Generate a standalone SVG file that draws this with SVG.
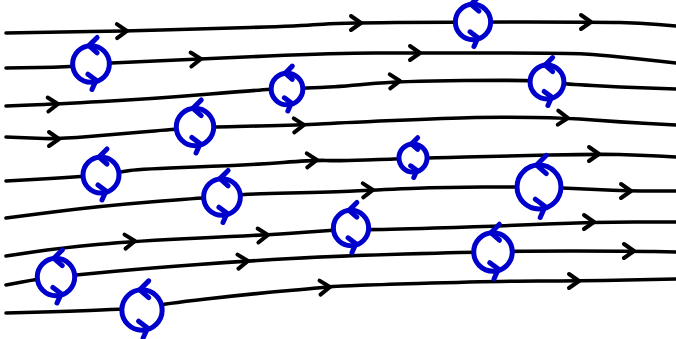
<svg xmlns="http://www.w3.org/2000/svg" xmlns:xlink="http://www.w3.org/1999/xlink" width="676" height="339" viewBox="0 0 676 339">
  <style>
    .stream { fill: none; stroke: #000; stroke-width: 3.6; stroke-linecap: round; stroke-linejoin: round; }
    .chev { fill: none; stroke: #000; stroke-width: 4; stroke-linecap: round; stroke-linejoin: round; }
    .swirl circle { fill: #fff; }
    .swirl * { stroke: #0000cc; stroke-width: 5; stroke-linecap: round; stroke-linejoin: round; vector-effect: non-scaling-stroke; }
    .swirl path { fill: none; }
  </style>
  <defs>
    <!-- flow direction chevron, tip at the origin pointing +x -->
    <path id="chev" d="M-9,-7 L1,0 L-9,7"/>
    <!-- counter-rotating eddy, radius 18 -->
    <g id="swirl" class="swirl">
      <circle r="18"/>
      <path d="M6,-26 L-2,-18 L6,-11"/>
      <path d="M-3,10 L5,16 L1,25"/>
    </g>
  </defs>

  <rect width="676" height="339" fill="#fff"/>

  <g id="streamlines">
    <path class="stream" d="M6,33 L33,32.5 Q60,32 91,31.5 Q122,31 161,30 Q200,29 250,27.5 Q300,26 318,24.5 Q336,23 395.5,22.5 Q455,22 527.5,22 Q600,22 620,22.5 Q640,23 658,24.5 L676,26"/>
    <path class="stream" d="M6,68 L38,67.5 Q70,67 80.5,65.5 Q91,64 100.5,63.5 Q110,63 155,61 Q200,59 268,56 Q336,53 375.5,53 Q415,53 492,53 Q569,53 584.5,54 Q600,55 620,57 Q640,59 658,61 L676,63"/>
    <path class="stream" d="M6,106 L30.5,105 Q55,104 102.5,101.5 Q150,99 210,94 Q270,89 278.5,89 Q287,89 296,88.5 Q305,88 320.5,87.5 Q336,87 367.5,84 Q399,81 464.5,80.5 Q530,80 538.5,81 Q547,82 556,83 Q565,84 592.5,85.5 Q620,87 648,88 L676,89"/>
    <path class="stream" d="M6,137 L18,137.5 Q30,138 44,138.5 Q58,139 89,136.5 Q120,134 148,131.5 Q176,129 185.5,128.5 Q195,128 204.5,127.5 Q214,127 258.5,126 Q303,125 319.5,124 Q336,123 393,120.5 Q450,118 475,117.5 Q500,117 533.5,117.5 Q567,118 593.5,120 Q620,122 648,123.5 L676,125"/>
    <path class="stream" d="M6,181 L33,179.5 Q60,178 80.5,176.5 Q101,175 110.5,173.5 Q120,172 130,170.5 Q140,169 195,167 Q250,165 283,162.5 Q316,160 326,160.5 Q336,161 365.5,160 Q395,159 404,158.5 Q413,158 421.5,158 Q430,158 465,157 Q500,156 549,155 Q598,154 619,154.5 Q640,155 658,156 L676,157"/>
    <path class="stream" d="M6,218 L53,212 Q100,206 150,202 Q200,198 211,197.5 Q222,197 232.5,195.5 Q243,194 289.5,193 Q336,192 354,191 Q372,190 411,188.5 Q450,187 483,187 Q516,187 527.5,187 Q539,187 550.5,187.5 Q562,188 596,189.5 Q630,191 653,191 L676,191"/>
    <path class="stream" d="M6,256 L33,252 Q60,248 97,244.5 Q134,241 200.5,238 Q267,235 301.5,232.5 Q336,230 343.5,229.5 Q351,229 360,229.5 Q369,230 434.5,228 Q500,226 546.5,224 Q593,222 634.5,222 L676,222"/>
    <path class="stream" d="M6,285 L22,282 Q38,279 47,278 Q56,277 65.5,276 Q75,275 112.5,271.5 Q150,268 198.5,264.5 Q247,261 291.5,258.5 Q336,256 405,254 Q474,252 483.5,252 Q493,252 502.5,251.5 Q512,251 572.5,251 Q633,251 654.5,251.5 L676,252"/>
    <path class="stream" d="M6,313 L43,312 Q80,311 101,310 Q122,309 132,309 Q142,309 152,306.5 Q162,304 206,299 Q250,294 289.5,290.5 Q329,287 332.5,286.5 Q336,286 418,283.5 Q500,281 539,281 Q578,281 627,280 L676,279"/>

    <!-- direction marks along the streamlines -->
    <use xlink:href="#chev" class="chev" transform="translate(126,31) rotate(-1)"/>
    <use xlink:href="#chev" class="chev" transform="translate(360,23)"/>
    <use xlink:href="#chev" class="chev" transform="translate(590,22)"/>
    <use xlink:href="#chev" class="chev" transform="translate(200,59) rotate(-3)"/>
    <use xlink:href="#chev" class="chev" transform="translate(419,53)"/>
    <use xlink:href="#chev" class="chev" transform="translate(57,104) rotate(-3)"/>
    <use xlink:href="#chev" class="chev" transform="translate(399,81) rotate(-2)"/>
    <use xlink:href="#chev" class="chev" transform="translate(58,139)"/>
    <use xlink:href="#chev" class="chev" transform="translate(303,125) rotate(-2)"/>
    <use xlink:href="#chev" class="chev" transform="translate(567,118) rotate(2)"/>
    <use xlink:href="#chev" class="chev" transform="translate(316,160) rotate(-2)"/>
    <use xlink:href="#chev" class="chev" transform="translate(598,154)"/>
    <use xlink:href="#chev" class="chev" transform="translate(372,190) rotate(-2)"/>
    <use xlink:href="#chev" class="chev" transform="translate(630,191)"/>
    <use xlink:href="#chev" class="chev" transform="translate(134,241) rotate(-4)"/>
    <use xlink:href="#chev" class="chev" transform="translate(267,235) rotate(-3)"/>
    <use xlink:href="#chev" class="chev" transform="translate(593,222)"/>
    <use xlink:href="#chev" class="chev" transform="translate(247,261) rotate(-4)"/>
    <use xlink:href="#chev" class="chev" transform="translate(633,251)"/>
    <use xlink:href="#chev" class="chev" transform="translate(329,287) rotate(-4)"/>
    <use xlink:href="#chev" class="chev" transform="translate(578,281)"/>
  </g>

  <g id="eddy-1" transform="translate(473,22) scale(0.98)"><use xlink:href="#swirl"/></g>
  <g id="eddy-2" transform="translate(91,64) scale(1.02)"><use xlink:href="#swirl"/></g>
  <g id="eddy-3" transform="translate(287,89) scale(0.88)"><use xlink:href="#swirl"/></g>
  <g id="eddy-4" transform="translate(547,82) scale(0.94)"><use xlink:href="#swirl"/></g>
  <g id="eddy-5" transform="translate(195,127) scale(1.04)"><use xlink:href="#swirl"/></g>
  <g id="eddy-6" transform="translate(101,175) scale(1)"><use xlink:href="#swirl"/></g>
  <g id="eddy-7" transform="translate(413,158) scale(0.78)"><use xlink:href="#swirl"/></g>
  <g id="eddy-8" transform="translate(222,197) scale(1.02)"><use xlink:href="#swirl"/></g>
  <g id="eddy-9" transform="translate(539,187) scale(1.22)"><use xlink:href="#swirl"/></g>
  <g id="eddy-10" transform="translate(351,228) scale(0.98)"><use xlink:href="#swirl"/></g>
  <g id="eddy-11" transform="translate(493,252) scale(1.07)"><use xlink:href="#swirl"/></g>
  <g id="eddy-12" transform="translate(56,277) scale(1.04)"><use xlink:href="#swirl"/></g>
  <g id="eddy-13" transform="translate(142,310) scale(1.12)"><use xlink:href="#swirl"/></g>
</svg>
